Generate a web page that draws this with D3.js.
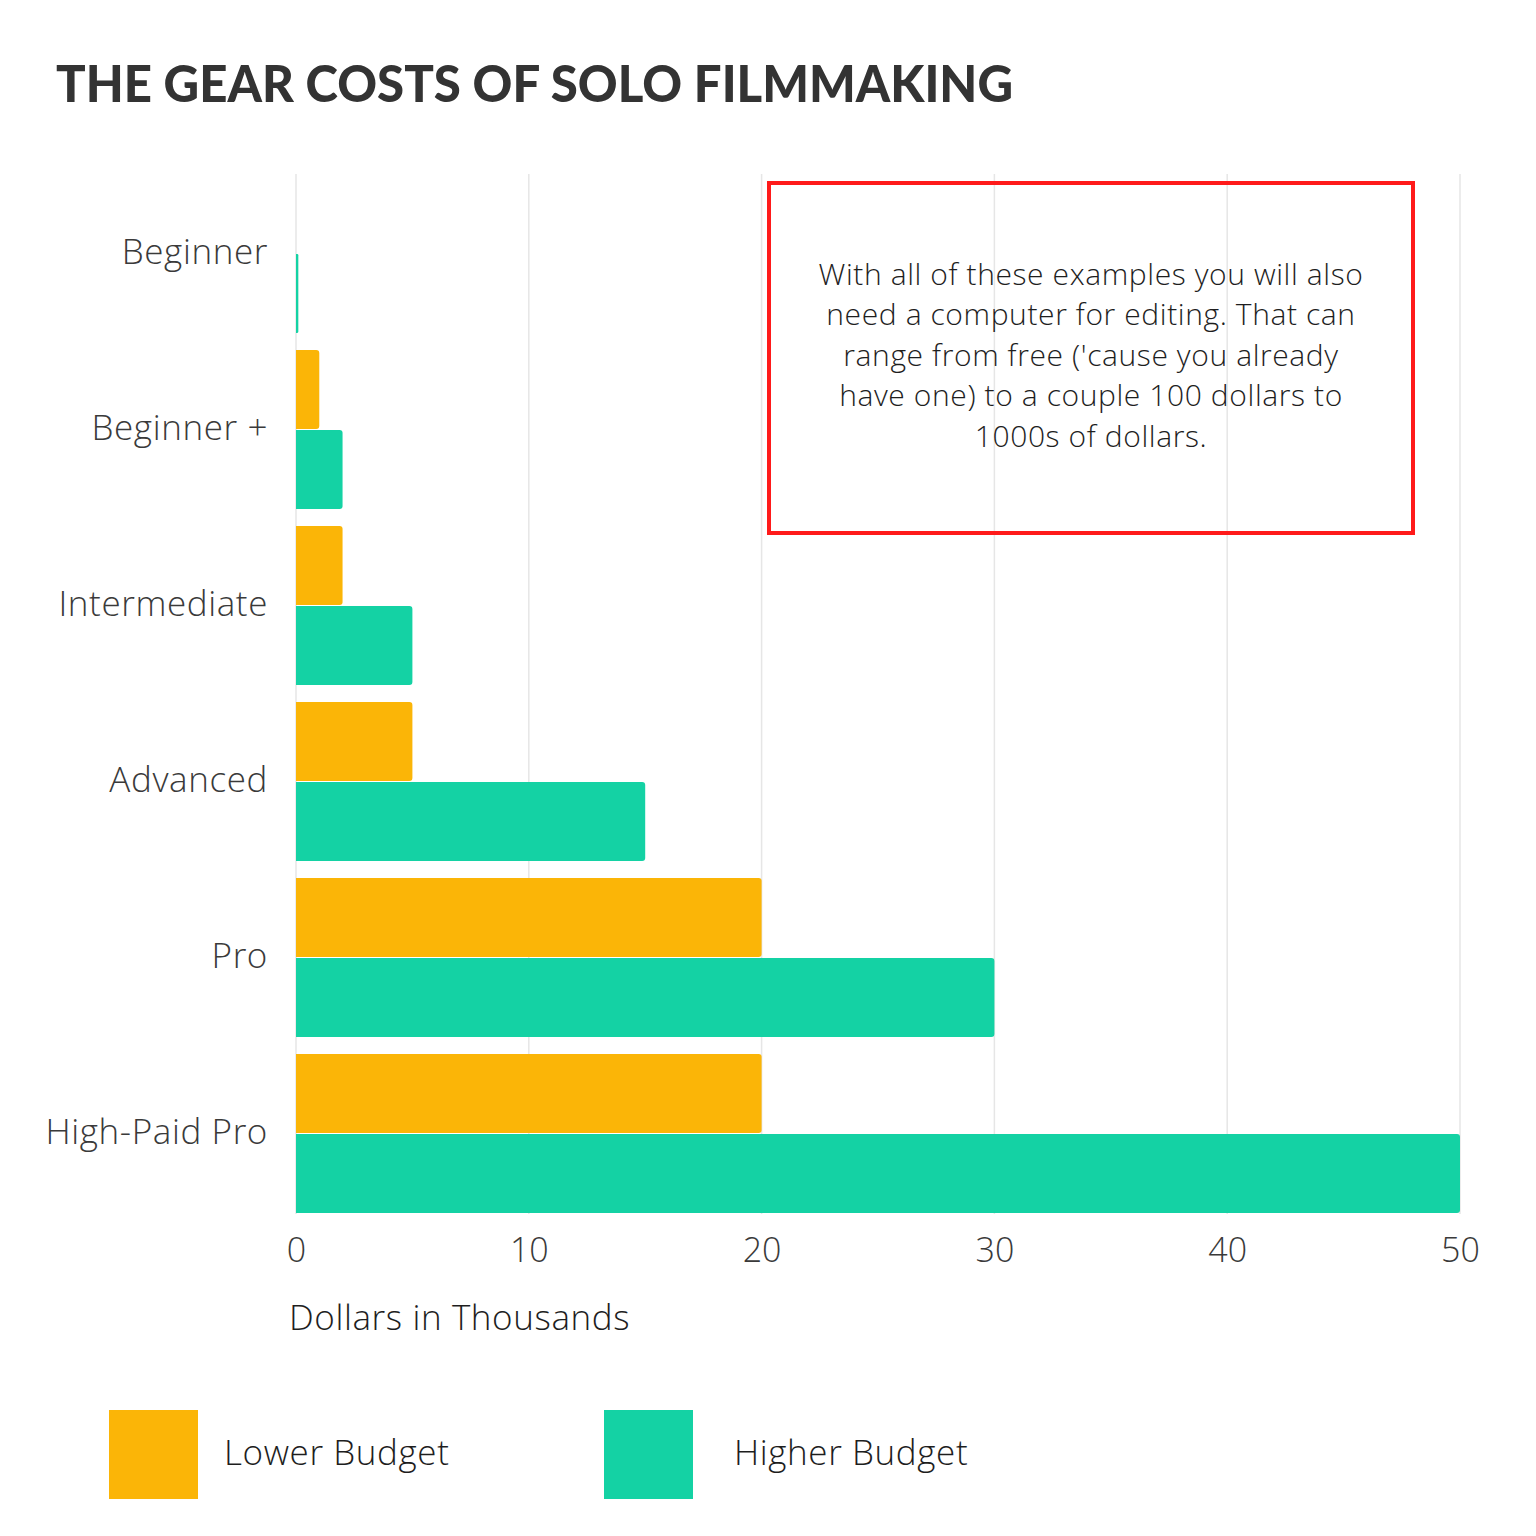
<!DOCTYPE html>
<html><head><meta charset="utf-8">
<script src="https://cdn.jsdelivr.net/npm/d3@7"></script>
<style>body{margin:0;background:#fff}svg{display:block}</style>
</head><body>
<script>
const categories = ["Beginner","Beginner +","Intermediate","Advanced","Pro","High-Paid Pro"];
const seriesNames = ["Lower Budget","Higher Budget"];
const lowerBudget = [0, 1, 2, 5, 20, 20];
const higherBudget = [0.1, 2, 5, 15, 30, 50];
const xTicks = [0,10,20,30,40,50];
const colors = ["#FBB507","#14D2A4"];
const noteLines = ["With all of these examples you will also","need a computer for editing. That can","range from free ('cause you already","have one) to a couple 100 dollars to","1000s of dollars."];

const W=1536,H=1536;
const svg=d3.select("body").append("svg").attr("width",W).attr("height",H);
const font="'Open Sans', 'Lato', sans-serif";
const fw=300;

const x=d3.scaleLinear().domain([0,50]).range([296,1460]);
const y=d3.scaleBand().domain(categories).range([166,1222]).paddingInner(16/176).paddingOuter(8/176);
const y1=d3.scaleBand().domain(seriesNames).range([0,y.bandwidth()]);

// title
svg.append("text").attr("x",56).attr("y",102).text("THE GEAR COSTS OF SOLO FILMMAKING")
 .attr("font-family","Lato, sans-serif").attr("font-weight",900).attr("font-size",52)
 .attr("fill","#333").attr("textLength",957).attr("lengthAdjust","spacingAndGlyphs");

// gridlines
svg.append("g").selectAll("line").data(xTicks).join("line")
 .attr("x1",d=>x(d)).attr("x2",d=>x(d)).attr("y1",174).attr("y2",1214)
 .attr("stroke","#e6e6e6").attr("stroke-width",1.5);

// bars
const data=categories.map((c,i)=>({cat:c,vals:[lowerBudget[i],higherBudget[i]]}));
const g=svg.append("g");
data.forEach(d=>{
  d.vals.forEach((v,j)=>{
    if(v<=0) return;
    const x0=x(0), x1=x(v), yy=y(d.cat)+y1(seriesNames[j]), h=y1.bandwidth()-1;
    const r=Math.min(3,(x1-x0)/2);
    g.append("path").attr("fill",colors[j])
     .attr("d",`M${x0},${yy}H${x1-r}Q${x1},${yy} ${x1},${yy+r}V${yy+h-r}Q${x1},${yy+h} ${x1-r},${yy+h}H${x0}Z`);
  });
});

// category labels
svg.append("g").selectAll("text").data(categories).join("text")
 .attr("x",268).attr("y",d=>y(d)+y.bandwidth()/2-2).attr("dy","0.35em")
 .attr("text-anchor","end").attr("font-family",font).attr("font-weight",fw).attr("font-size",35)
 .attr("letter-spacing",0.6).attr("fill","#3a3a3a").text(d=>d);

// x axis ticks
const xAxis=d3.axisBottom(x).tickValues(xTicks).tickSize(0).tickPadding(0);
const ax=svg.append("g").attr("transform","translate(0,1250)").call(xAxis);
ax.select(".domain").remove();
ax.selectAll("text").attr("dy","0.35em").attr("font-family",font).attr("font-weight",fw).attr("font-size",34).attr("fill","#3a3a3a");

svg.append("text").attr("x",289).attr("y",1318).attr("dy","0.35em").text("Dollars in Thousands")
 .attr("font-family",font).attr("font-weight",fw).attr("font-size",35).attr("letter-spacing",0.6).attr("fill","#1e1e1e");

// annotation
svg.append("rect").attr("x",769).attr("y",183).attr("width",644).attr("height",350)
 .attr("fill","none").attr("stroke","#ff1a1a").attr("stroke-width",4);
svg.append("g").selectAll("text").data(noteLines).join("text")
 .attr("x",1091).attr("y",(d,i)=>274+i*40.5).attr("dy","0.35em").attr("text-anchor","middle")
 .attr("font-family",font).attr("font-weight",fw).attr("font-size",30).attr("letter-spacing",0.6).attr("fill","#1e1e1e").text(d=>d);

// legend
const legX=[109,604], legTX=[224,734];
seriesNames.forEach((s,i)=>{
  svg.append("rect").attr("x",legX[i]).attr("y",1410).attr("width",89).attr("height",89).attr("fill",colors[i]);
  svg.append("text").attr("x",legTX[i]).attr("y",1453).attr("dy","0.35em").text(s)
   .attr("font-family",font).attr("font-weight",fw).attr("font-size",35).attr("letter-spacing",0.6).attr("fill","#1e1e1e");
});
</script>
</body></html>
